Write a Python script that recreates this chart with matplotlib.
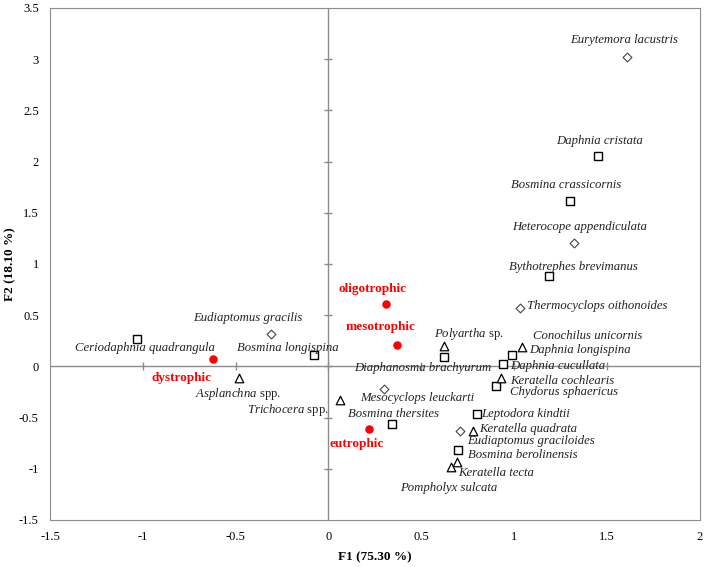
import matplotlib
matplotlib.use('Agg')
import matplotlib.pyplot as plt

plt.rcParams['font.family'] = ['Liberation Serif', 'DejaVu Serif']
plt.rcParams['mathtext.fontset'] = 'custom'
plt.rcParams['mathtext.it'] = 'Liberation Serif:italic'
plt.rcParams['mathtext.rm'] = 'Liberation Serif'

# species scores (F1, F2) by marker group
sq_names = ['Daphnia cristata', 'Bosmina crassicornis', 'Bythotrephes brevimanus',
            'Daphnia longispina', 'Daphnia cucullata', 'Chydorus sphaericus',
            'Diaphanosma brachyurum', 'Leptodora kindtii', 'Bosmina berolinensis',
            'Bosmina thersites', 'Bosmina longispina', 'Ceriodaphnia quadrangula']
sq_x = [1.45, 1.30, 1.19, 0.99, 0.94, 0.90, 0.62, 0.80, 0.70, 0.34, -0.08, -1.03]
sq_y = [2.05, 1.61, 0.88, 0.11, 0.02, -0.19, 0.09, -0.47, -0.82, -0.56, 0.11, 0.27]

di_names = ['Eurytemora lacustris', 'Heterocope appendiculata', 'Thermocyclops oithonoides',
            'Eudiaptomus graciloides', 'Mesocyclops leuckarti', 'Eudiaptomus gracilis']
di_x = [1.61, 1.32, 1.03, 0.71, 0.30, -0.31]
di_y = [3.02, 1.20, 0.57, -0.63, -0.22, 0.32]

tr_names = ['Conochilus unicornis', 'Keratella cochlearis', 'Polyartha sp.',
            'Keratella quadrata', 'Keratella tecta', 'Pompholyx sulcata',
            'Trichocera spp.', 'Asplanchna spp.']
tr_x = [1.04, 0.93, 0.62, 0.78, 0.69, 0.66, 0.06, -0.48]
tr_y = [0.19, -0.11, 0.20, -0.63, -0.93, -0.98, -0.33, -0.11]

# trophic states
st_names = ['oligotrophic', 'mesotrophic', 'dystrophic', 'eutrophic']
st_x = [0.31, 0.37, -0.62, 0.22]
st_y = [0.61, 0.21, 0.07, -0.61]

# label placement: name -> (x, y, ha)
label_pos = {
    'Eurytemora lacustris': (1.59, 3.19, 'center'),
    'Daphnia cristata': (1.46, 2.20, 'center'),
    'Bosmina crassicornis': (1.28, 1.77, 'center'),
    'Heterocope appendiculata': (1.35, 1.36, 'center'),
    'Bythotrephes brevimanus': (1.32, 0.97, 'center'),
    'Thermocyclops oithonoides': (1.07, 0.59, 'left'),
    'Polyartha sp.': (0.57, 0.32, 'left'),
    'Conochilus unicornis': (1.10, 0.30, 'left'),
    'Daphnia longispina': (1.08, 0.16, 'left'),
    'Daphnia cucullata': (0.98, 0.00, 'left'),
    'Keratella cochlearis': (0.98, -0.14, 'left'),
    'Chydorus sphaericus': (0.98, -0.25, 'left'),
    'Diaphanosma brachyurum': (0.51, -0.02, 'center'),
    'Leptodora kindtii': (0.82, -0.47, 'left'),
    'Keratella quadrata': (0.81, -0.61, 'left'),
    'Eudiaptomus graciloides': (0.745, -0.73, 'left'),
    'Bosmina berolinensis': (0.75, -0.87, 'left'),
    'Keratella tecta': (0.70, -1.045, 'left'),
    'Pompholyx sulcata': (0.385, -1.19, 'left'),
    'Mesocyclops leuckarti': (0.17, -0.31, 'left'),
    'Bosmina thersites': (0.105, -0.47, 'left'),
    'Trichocera spp.': (-0.44, -0.43, 'left'),
    'Asplanchna spp.': (-0.72, -0.27, 'left'),
    'Bosmina longispina': (-0.49, 0.175, 'left'),
    'Eudiaptomus gracilis': (-0.73, 0.47, 'left'),
    'Ceriodaphnia quadrangula': (-1.365, 0.175, 'left'),
    'dystrophic': (-0.955, -0.11, 'left'),
    'oligotrophic': (0.235, 0.76, 'center'),
    'mesotrophic': (0.28, 0.38, 'center'),
    'eutrophic': (0.15, -0.76, 'center'),
}

xticks = [-1.5, -1, -0.5, 0, 0.5, 1, 1.5, 2]
yticks = [-1.5, -1, -0.5, 0, 0.5, 1, 1.5, 2, 2.5, 3, 3.5]


def species_label(name):
    # genus/species in italics, "sp."/"spp." upright
    words = name.split(' ')
    if words[-1] in ('sp.', 'spp.'):
        return r'$\mathit{' + r'\ '.join(words[:-1]) + '}$ ' + words[-1], 'normal'
    return name, 'italic'


fig = plt.figure(figsize=(7.09, 5.67), dpi=100)
ax = fig.add_axes([0.0705, 0.083, 0.9165, 0.903])

grey = '#8c8c8c'
ax.axhline(0, color=grey, lw=1, zorder=1)
ax.axvline(0, color=grey, lw=1, zorder=1)
ax.plot(xticks[1:-1], [0] * (len(xticks) - 2), ls='none', marker='|', ms=6, color=grey, zorder=1)
ax.plot([0] * (len(yticks) - 2), yticks[1:-1], ls='none', marker='_', ms=6, color=grey, zorder=1)

ax.scatter(sq_x, sq_y, marker='s', s=34, facecolor='white', edgecolor='black', lw=1, zorder=3)
ax.scatter(di_x, di_y, marker='D', s=20, facecolor='white', edgecolor='#444444', lw=0.8, zorder=3)
ax.scatter(tr_x, tr_y, marker='^', s=38, facecolor='white', edgecolor='black', lw=0.9, zorder=3)
ax.scatter(st_x, st_y, marker='o', s=26, color='#ff0000', zorder=3)

for name in sq_names + di_names + tr_names:
    x, y, ha = label_pos[name]
    txt, st = species_label(name)
    ax.text(x, y, txt, ha=ha, va='center', fontsize=9.2,
            style=st, color='#222222', zorder=4)

for name in st_names:
    x, y, ha = label_pos[name]
    ax.text(x, y, name, ha=ha, va='center', fontsize=9.5, fontweight='bold',
            color='#ff0000', zorder=4)

ax.set_xlim(-1.5, 2)
ax.set_ylim(-1.5, 3.5)
ax.set_xticks(xticks)
ax.set_yticks(yticks)
ax.set_xticklabels(['-1.5', '-1', '-0.5', '0', '0.5', '1', '1.5', '2'])
ax.set_yticklabels(['-1.5', '-1', '-0.5', '0', '0.5', '1', '1.5', '2', '2.5', '3', '3.5'])
ax.tick_params(length=0, labelsize=9, pad=8)
for s in ax.spines.values():
    s.set_color(grey)

ax.set_xlabel('F1 (75.30 %)', fontsize=9.5, fontweight='bold', labelpad=6)
ax.set_ylabel('F2 (18.10 %)', fontsize=9.5, fontweight='bold', labelpad=2)

fig.savefig('out.png', dpi=100)
